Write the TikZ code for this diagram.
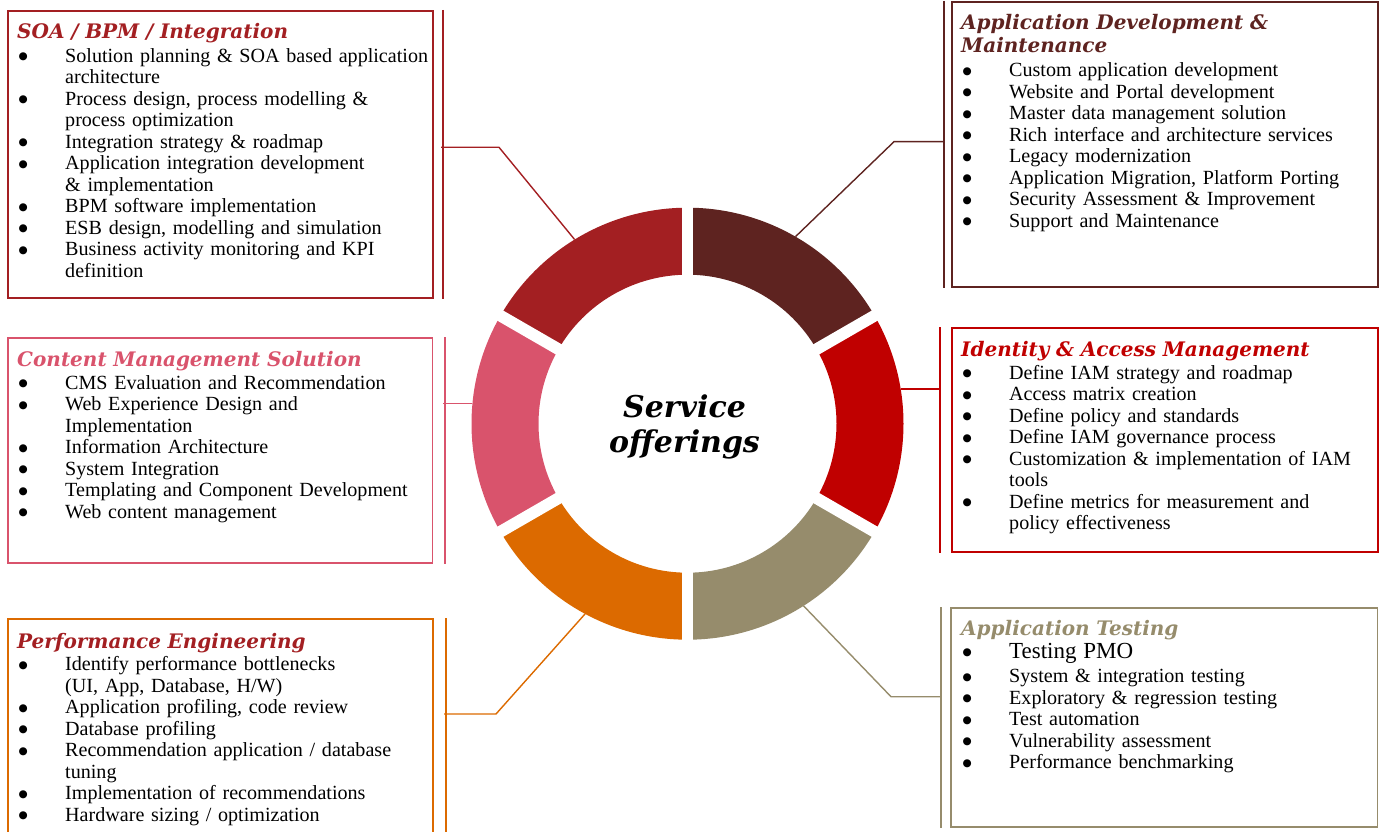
\documentclass[tikz,border=0pt]{standalone}
\usepackage{fontspec}
\setmainfont{Liberation Serif}
\newfontfamily\headfont{DejaVu Serif}
\newfontfamily\dotfont{DejaVu Sans}
\usetikzlibrary{calc}
\definecolor{soacol}{HTML}{A31F22}
\definecolor{devcol}{HTML}{5E2320}
\definecolor{cmscol}{HTML}{D9536C}
\definecolor{iamcol}{HTML}{C00000}
\definecolor{perfcol}{HTML}{DC6A00}
\definecolor{testcol}{HTML}{968C6C}
\newcommand{\bul}{\makebox[48pt][l]{\hspace{1.5pt}\raisebox{2.5pt}{\dotfont\fontsize{10.5}{0}\selectfont ●}}}
\newcommand{\cont}{\hspace*{48pt}}
\newcommand{\hd}[2]{{\headfont\bfseries\itshape\fontsize{20}{21.5}\selectfont\color{#1}#2}}

\begin{document}
\begin{tikzpicture}[x=1pt,y=-1pt,line cap=butt,line join=miter]
	\tikzset{
		offer/.style={draw=#1,line width=1.8pt,anchor=north west,inner sep=0pt},
		side/.style={draw=#1,line width=2pt},
		link/.style={draw=#1,line width=1.4pt},
		txt/.style={anchor=base west,inner sep=0pt,text width=415pt,align=left,
			font=\fontsize{20.1}{21.5}\selectfont}
	}
	\useasboundingbox (0,0) rectangle (1382,832);
	% ring of six segments
	\coordinate (ring) at (687.5,423.7);
	\def\ro{216} \def\ri{149}
	\foreach \s/\col in {-90/devcol,-30/iamcol,30/testcol,90/perfcol,150/cmscol,210/soacol}
		\fill[\col] ($(ring)+(\s:\ro)$) arc[start angle=\s,end angle=\s+60,radius=\ro]
			-- ($(ring)+({\s+60}:\ri)$) arc[start angle=\s+60,end angle=\s,radius=\ri] -- cycle;
	\foreach \s in {-90,-30,30,90,150,210}
		\draw[white,line width=11.7pt] (ring) -- ($(ring)+(\s:225)$);
	\node[anchor=base,text width=220pt,align=center,inner sep=0pt,
		font=\headfont\bfseries\itshape\fontsize{30}{35}\selectfont] (core) at (684.5,417) {Service\\offerings};

	% boxes
	\node[offer=soacol,minimum width=425pt,minimum height=287pt] (soa) at (7,10) {};
	\node[offer=devcol,minimum width=426pt,minimum height=285pt] (dev) at (951,1) {};
	\node[offer=cmscol,minimum width=424.5pt,minimum height=225pt] (cms) at (7,337) {};
	\node[offer=iamcol,minimum width=426pt,minimum height=224pt] (iam) at (951,327) {};
	\node[offer=perfcol,minimum width=425pt,minimum height=224pt] (perf) at (7,618) {};
	\node[offer=testcol,minimum width=426.5pt,minimum height=219pt] (test) at (950,607) {};

	\node[txt] (soa-txt) at (17,39) {\hd{soacol}{SOA / BPM / Integration}\\[1.8pt]
		\bul Solution planning \& SOA based application\\
		\cont architecture\\
		\bul Process design, process modelling \&\\
		\cont process optimization\\
		\bul Integration strategy \& roadmap\\
		\bul Application integration development\\
		\cont \& implementation\\
		\bul BPM software implementation\\
		\bul ESB design, modelling and simulation\\
		\bul Business activity monitoring and KPI\\
		\cont definition};
	\node[txt] (dev-txt) at (961,29.3) {\hd{devcol}{Application Development \&}\\[1.9pt]
		\hd{devcol}{Maintenance}\\[2.5pt]
		\bul Custom application development\\
		\bul Website and Portal development\\
		\bul Master data management solution\\
		\bul Rich interface and architecture services\\
		\bul Legacy modernization\\
		\bul Application Migration, Platform Porting\\
		\bul Security Assessment \& Improvement\\
		\bul Support and Maintenance};
	\node[txt] (cms-txt) at (17,366) {\hd{cmscol}{Content Management Solution}\\[1.8pt]
		\bul CMS Evaluation and Recommendation\\
		\bul Web Experience Design and\\
		\cont Implementation\\
		\bul Information Architecture\\
		\bul System Integration\\
		\bul Templating and Component Development\\
		\bul Web content management};
	\node[txt] (iam-txt) at (961,356) {\hd{iamcol}{Identity \& Access Management}\\[1.8pt]
		\bul Define IAM strategy and roadmap\\
		\bul Access matrix creation\\
		\bul Define policy and standards\\
		\bul Define IAM governance process\\
		\bul Customization \& implementation of IAM\\
		\cont tools\\
		\bul Define metrics for measurement and\\
		\cont policy effectiveness};
	\node[txt] (perf-txt) at (17,648.3) {\hd{soacol}{Performance Engineering}\\[0.9pt]
		\bul Identify performance bottlenecks\\
		\cont (UI, App, Database, H/W)\\
		\bul Application profiling, code review\\
		\bul Database profiling\\
		\bul Recommendation application / database\\
		\cont tuning\\
		\bul Implementation of recommendations\\
		\bul Hardware sizing / optimization};
	\node[txt] (test-txt) at (961,635) {\hd{testcol}{Application Testing}\\[1.8pt]
		{\fontsize{23}{21.5}\selectfont\bul Testing PMO}\\[2.9pt]
		\bul System \& integration testing\\
		\bul Exploratory \& regression testing\\
		\bul Test automation\\
		\bul Vulnerability assessment\\
		\bul Performance benchmarking};

	% side bars and connectors
	\draw[side=soacol] ([xshift=9pt]soa.north east) -- ([xshift=9pt]soa.south east);
	\draw[side=devcol] ([xshift=-7.5pt]dev.north west) -- ([xshift=-7.5pt]dev.south west);
	\draw[side=cmscol] ([xshift=11.5pt]cms.north east) -- ([xshift=11.5pt]cms.south east);
	\draw[side=iamcol] ([xshift=-11pt]iam.north west) -- ([xshift=-11pt]iam.south west);
	\draw[side=perfcol] ([xshift=12pt]perf.north east) -- ([xshift=12pt]perf.south east);
	\draw[side=testcol] ([xshift=-9.5pt]test.north west) -- ([xshift=-9.5pt]test.south west);

	\coordinate (soa-j) at (441,147.3);  \coordinate (soa-r) at ($(ring)+(-121.5:216)$);
	\coordinate (dev-j) at (943.5,141.7); \coordinate (dev-r) at ($(ring)+(-60:216)$);
	\coordinate (cms-j) at (443,403.3);  \coordinate (cms-r) at ($(ring)+(-174.6:216)$);
	\coordinate (iam-j) at (940,389);    \coordinate (iam-r) at ($(ring)+(-9.2:216)$);
	\coordinate (perf-j) at (444,714);   \coordinate (perf-r) at ($(ring)+(118.3:216)$);
	\coordinate (test-j) at (940.5,696.7); \coordinate (test-r) at ($(ring)+(57.5:216)$);

	\draw[link=soacol] (soa-j) -- (499,147.3) -- (soa-r);
	\draw[link=devcol] (dev-j) -- (894,141.7) -- (dev-r);
	\draw[link=cmscol] (cms-j) -- (cms-j -| cms-r);
	\draw[link=iamcol] (iam-j) -- (iam-j -| iam-r);
	\draw[link=perfcol] (perf-j) -- (496,714) -- (perf-r);
	\draw[link=testcol] (test-j) -- (891,696.7) -- (test-r);
\end{tikzpicture}
\end{document}
